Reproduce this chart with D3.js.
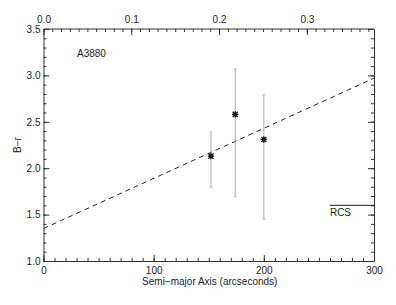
<!DOCTYPE html>
<html><head><meta charset="utf-8">
<script src="https://cdn.jsdelivr.net/npm/d3@7"></script>
<style>
html,body{margin:0;padding:0;background:#fff;}
svg text{font-family:"Liberation Sans","DejaVu Sans",Arial,sans-serif;fill:#222;}
</style></head><body>
<svg id="c" width="396" height="305"></svg>
<script>
// Data
const radius = [152, 174, 200];          // arcseconds
const color = [2.13, 2.58, 2.31];        // B-r
const errLow = [1.79, 1.69, 1.45];
const errHigh = [2.39, 3.07, 2.79];
const fitX = [0, 300];
const fitY = [1.35, 2.97];
const rcsX = [260, 300];
const rcsY = [1.60, 1.60];
const xTicks = [0, 100, 200, 300];
const yTicks = [1.0, 1.5, 2.0, 2.5, 3.0, 3.5];
const topTicks = [0.0, 0.1, 0.2, 0.3];
const topMax = 0.3765;

const svg = d3.select("#c");
const L = 43.5, R = 374, T = 29, B = 261;
const x = d3.scaleLinear().domain([0, 300]).range([L, R]);
const y = d3.scaleLinear().domain([1.0, 3.5]).range([B, T]);
const xt = d3.scaleLinear().domain([0, topMax]).range([L, R]);

const axisCol = "#333";
function styleAxis(g){
  g.select(".domain").attr("stroke", axisCol).attr("stroke-width", 1);
  g.selectAll(".tick line").attr("stroke", axisCol);
  g.selectAll("text").attr("font-size", 10).attr("fill", "#222");
}
// minor ticks
const xMinor = d3.range(0, 301, 10);
const yMinor = d3.range(10, 36, 1).map(v => v / 10);
const tMinor = d3.range(0, Math.floor(topMax * 100) + 1).map(v => v / 100);

// bottom axis
const gb = svg.append("g").attr("transform", `translate(0,${B})`);
gb.call(d3.axisBottom(x).tickValues(xMinor).tickSize(-3).tickFormat("")).call(styleAxis);
const gb2 = svg.append("g").attr("transform", `translate(0,${B})`);
gb2.call(d3.axisBottom(x).tickValues(xTicks).tickSize(-6).tickPadding(6).tickFormat(d3.format("d"))).call(styleAxis);
gb2.select(".domain").remove();

// top axis
const gt = svg.append("g").attr("transform", `translate(0,${T})`);
gt.call(d3.axisTop(xt).tickValues(tMinor).tickSize(-3).tickFormat("")).call(styleAxis);
gt.select(".domain").attr("d", `M${L},0H${R}`);
const gt2 = svg.append("g").attr("transform", `translate(0,${T})`);
gt2.call(d3.axisTop(xt).tickValues(topTicks).tickSize(-6).tickPadding(6).tickFormat(d3.format(".1f"))).call(styleAxis);
gt2.select(".domain").remove();

// left axis
const gl = svg.append("g").attr("transform", `translate(${L},0)`);
gl.call(d3.axisLeft(y).tickValues(yMinor).tickSize(-3).tickFormat("")).call(styleAxis);
const gl2 = svg.append("g").attr("transform", `translate(${L},0)`);
gl2.call(d3.axisLeft(y).tickValues(yTicks).tickSize(-6).tickPadding(3).tickFormat(d3.format(".1f"))).call(styleAxis);
gl2.select(".domain").remove();

// right axis
const gr = svg.append("g").attr("transform", `translate(${R},0)`);
gr.call(d3.axisRight(y).tickValues(yMinor).tickSize(-3).tickFormat("")).call(styleAxis);
const gr2 = svg.append("g").attr("transform", `translate(${R},0)`);
gr2.call(d3.axisRight(y).tickValues(yTicks).tickSize(-6).tickFormat("")).call(styleAxis);
gr2.select(".domain").remove();

// fit line
svg.append("line")
  .attr("x1", x(fitX[0])).attr("y1", y(fitY[0]))
  .attr("x2", x(fitX[1])).attr("y2", y(fitY[1]))
  .attr("stroke", "#222").attr("stroke-width", 1).attr("stroke-dasharray", "5,4");

// error bars
const eg = svg.append("g");
radius.forEach((r, i) => {
  eg.append("line").attr("x1", x(r)).attr("x2", x(r))
    .attr("y1", y(errLow[i])).attr("y2", y(errHigh[i]))
    .attr("stroke", "#aaa").attr("stroke-width", 1);
  [errLow[i], errHigh[i]].forEach(v => {
    eg.append("line").attr("x1", x(r) - 1.5).attr("x2", x(r) + 1.5)
      .attr("y1", y(v)).attr("y2", y(v))
      .attr("stroke", "#bbb").attr("stroke-width", 1);
  });
});

// star markers
const sg = svg.append("g");
radius.forEach((r, i) => {
  const cx = x(r), cy = y(color[i]);
  const s = 3.2;
  const p = `M${cx - s},${cy}H${cx + s}M${cx},${cy - s}V${cy + s}` +
            `M${cx - s * 0.8},${cy - s * 0.8}L${cx + s * 0.8},${cy + s * 0.8}` +
            `M${cx - s * 0.8},${cy + s * 0.8}L${cx + s * 0.8},${cy - s * 0.8}`;
  sg.append("path").attr("d", p).attr("stroke", "#111").attr("stroke-width", 1.3).attr("fill", "none");
});

// RCS line
svg.append("line")
  .attr("x1", x(rcsX[0])).attr("x2", x(rcsX[1]))
  .attr("y1", y(rcsY[0])).attr("y2", y(rcsY[1]))
  .attr("stroke", "#222").attr("stroke-width", 1);
svg.append("text").attr("x", x(rcsX[0])).attr("y", y(rcsY[0]) + 11)
  .attr("font-size", 10).text("RCS");

// labels
svg.append("text").attr("x", 77).attr("y", 57).attr("font-size", 10).text("A3880");
svg.append("text").attr("x", (L + R) / 2 + 1).attr("y", 285).attr("text-anchor", "middle")
  .attr("font-size", 10).text("Semi\u2212major Axis (arcseconds)");
svg.append("text").attr("transform", "translate(21,145) rotate(-90)")
  .attr("text-anchor", "middle").attr("font-size", 10).text("B\u2212r");
</script></body></html>
